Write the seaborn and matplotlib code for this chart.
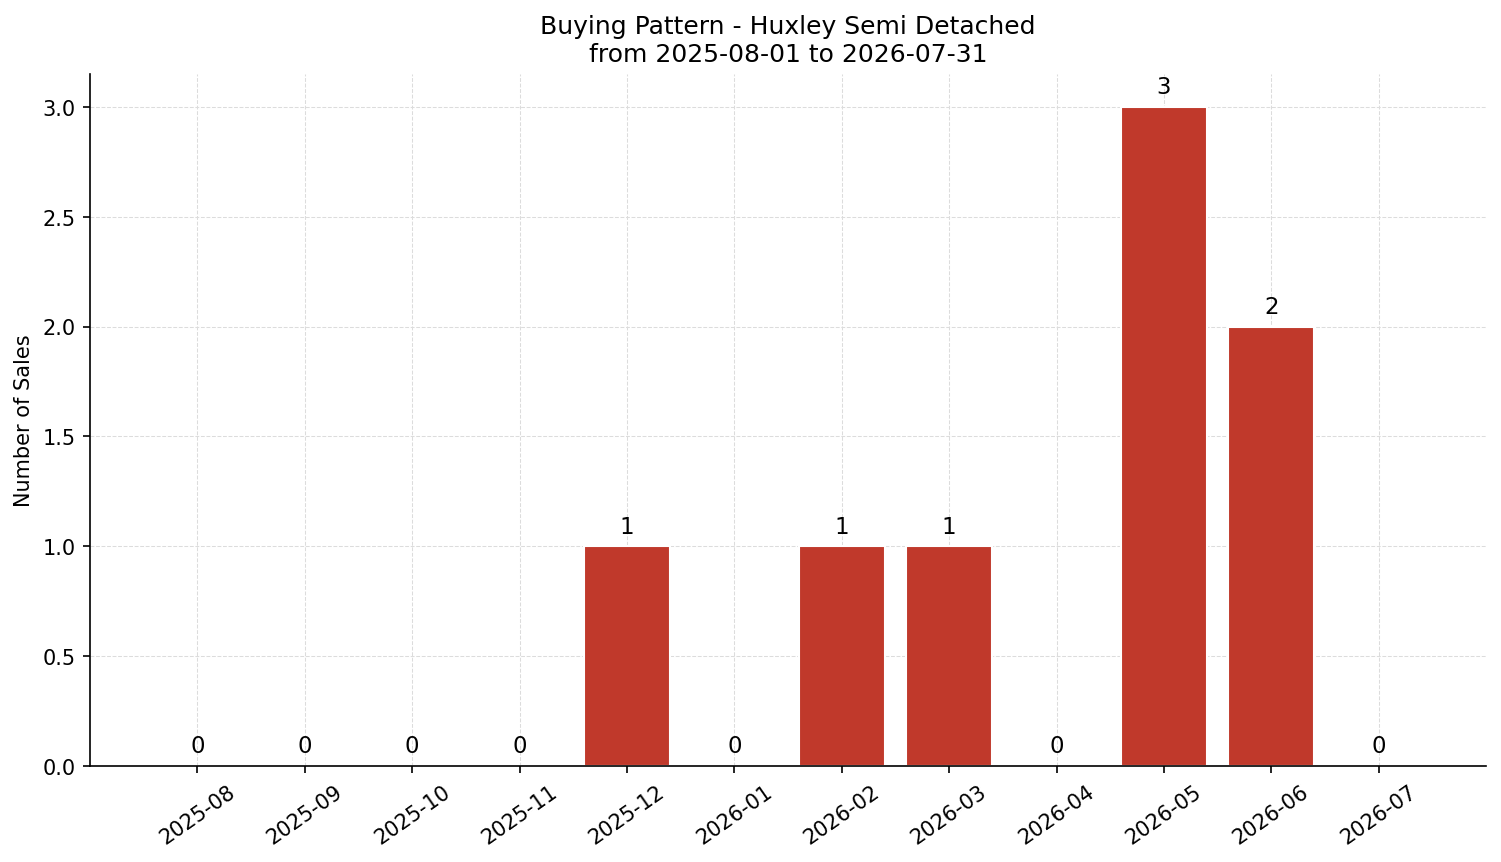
import matplotlib
matplotlib.use("Agg")
import matplotlib.pyplot as plt
import seaborn as sns

months = ["2025-08", "2025-09", "2025-10", "2025-11", "2025-12", "2026-01",
          "2026-02", "2026-03", "2026-04", "2026-05", "2026-06", "2026-07"]
sales = [0, 0, 0, 0, 1, 0, 1, 1, 0, 3, 2, 0]

sns.set_style("ticks", {"axes.edgecolor": "black", "text.color": "black",
                        "axes.labelcolor": "black", "xtick.color": "black",
                        "ytick.color": "black"})
fig, ax = plt.subplots(figsize=(10.007, 5.753), dpi=150)

sns.barplot(x=months, y=sales, color="#c0392b", saturation=1, width=0.8, ax=ax)

# seaborn turns the grid off on the categorical axis, so switch it back on
ax.grid(True, axis="both", linestyle="--", linewidth=0.5, color="#dcdcdc")
ax.set_axisbelow(True)

# value labels above each bar
for i, v in enumerate(sales):
    ax.text(i, v + 0.04, str(v), ha="center", va="bottom", fontsize=11, color="black")

ax.set_xlim(-1, 12)
ax.set_ylim(0, 3.15)
ax.set_ylabel("Number of Sales", fontsize=10)
ax.set_xlabel("")
ax.set_title("Buying Pattern - Huxley Semi Detached\nfrom 2025-08-01 to 2026-07-31", fontsize=12)
ax.tick_params(labelsize=10)
plt.setp(ax.get_xticklabels(), rotation=35)
sns.despine(ax=ax)

fig.subplots_adjust(left=0.060, right=0.990, bottom=0.111, top=0.9135)
fig.savefig("out.png", dpi=150)
